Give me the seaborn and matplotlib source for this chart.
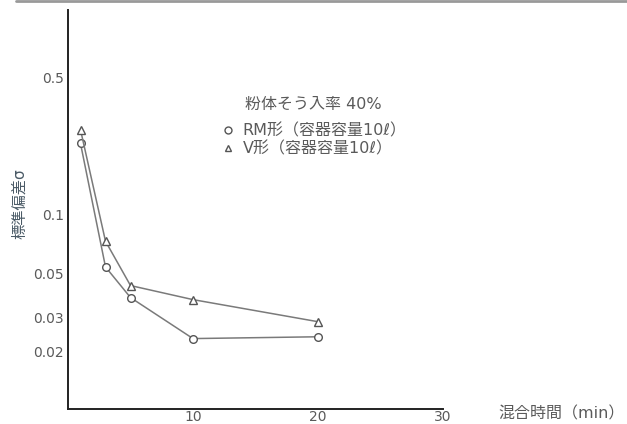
import pandas as pd
import seaborn as sns
import matplotlib.pyplot as plt
from matplotlib.lines import Line2D

# mixing time (min)
times = [1, 3, 5, 10, 20]
# standard deviation sigma
rm_sigma = [0.23, 0.054, 0.0377, 0.0233, 0.0238]
v_sigma = [0.27, 0.073, 0.0434, 0.0368, 0.0284]

series_names = ["RM", "V"]
legend_labels = ["RM形（容器容量10ℓ）", "V形（容器容量10ℓ）"]
legend_title = "粉体そう入率 40%"

y_ticks = [0.02, 0.03, 0.05, 0.1, 0.5, 1.0]
y_tick_labels = ["0.02", "0.03", "0.05", "0.1", "0.5", ""]
x_ticks = [10, 20, 30]
x_tick_labels = ["10", "20", "30"]

df = pd.DataFrame({
    "time": times * 2,
    "sigma": rm_sigma + v_sigma,
    "type": [series_names[0]] * len(times) + [series_names[1]] * len(times),
})

sns.set_style("white")
plt.rcParams["font.family"] = ["DejaVu Sans", "Noto Sans CJK JP"]

line_col = "#7a7a7a"
text_col = "#5a5a5a"

fig = plt.figure(figsize=(6.27, 4.24), dpi=100)
ax = fig.add_axes([68 / 627, 1 - 409 / 424, 375 / 627, 399 / 424])

sns.lineplot(
    data=df, x="time", y="sigma", style="type",
    markers={"RM": "o", "V": "^"}, dashes=False,
    color=line_col, linewidth=1.1,
    markersize=5.5, markerfacecolor="white",
    markeredgecolor="#555555", markeredgewidth=1.0,
    legend=False, ax=ax,
)

ax.set_yscale("log")
ax.set_xlim(0, 30)
ax.set_ylim(0.0102, 1.1)
ax.set_yticks(y_ticks)
ax.set_yticklabels(y_tick_labels)
ax.minorticks_off()
ax.set_xticks(x_ticks)
ax.set_xticklabels(x_tick_labels)

ax.tick_params(axis="both", direction="in", length=5, width=1.3,
               colors="#222222", labelcolor=text_col, labelsize=10)
ax.tick_params(axis="y", pad=3)
ax.tick_params(axis="x", pad=1)

for side in ["top", "right"]:
    ax.spines[side].set_visible(False)
for side in ["left", "bottom"]:
    ax.spines[side].set_color("#222222")
    ax.spines[side].set_linewidth(1.4)

ax.set_ylabel("標準偏差σ", fontsize=11, color="#4a5a66")
ax.yaxis.set_label_coords(-0.11, 0.515)
ax.set_xlabel("混合時間（min）", fontsize=11.5, color=text_col)
ax.xaxis.label.set_va("center")
ax.xaxis.set_label_coords(1.315, -0.012)

# legend title placed on its own, entries below it
fig.text(313 / 627, 1 - 104 / 424, legend_title, ha="center", va="center",
         fontsize=11.5, color=text_col)

handles = [
    Line2D([], [], linestyle="none", marker="o", markersize=5,
           markerfacecolor="white", markeredgecolor="#555555", markeredgewidth=1.0),
    Line2D([], [], linestyle="none", marker="^", markersize=5,
           markerfacecolor="white", markeredgecolor="#555555", markeredgewidth=1.0),
]
leg = ax.legend(
    handles, legend_labels,
    loc="upper left", bbox_to_anchor=(222 / 627, 1 - 123 / 424),
    bbox_transform=fig.transFigure, frameon=False,
    fontsize=11.5, handlelength=0.8, handletextpad=0.5,
    labelspacing=0.17, borderpad=0, borderaxespad=0,
)
for t in leg.get_texts():
    t.set_color(text_col)

# grey rule along the top of the page
fig.add_artist(Line2D([0.025, 1.0], [0.997, 0.997], color="#999999", linewidth=2))

fig.savefig("out.png", dpi=100)
